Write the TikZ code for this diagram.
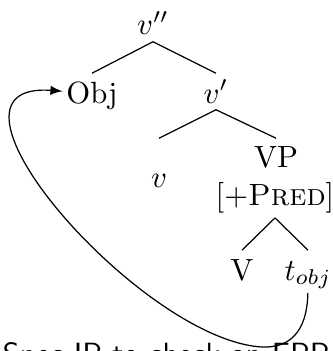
\documentclass[tikz,border=0pt]{standalone}
\usepackage{amsmath, amssymb}
\usepackage{tikz}
\usetikzlibrary{
    arrows,
    arrows.meta
}
\tikzset
{
  cat/.style={inner sep=0pt,text height=9.5pt,text depth=2pt,anchor=base},
  feature/.style={inner sep=0pt,text height=9.5pt,text depth=4pt,anchor=base},
  branch/.style={draw=black,thin},
  move/.style={draw=black,-latex}
}

\begin{document}
\begin{tikzpicture}[x=0.3256pt,y=-0.3256pt]
        % Frame of the picture
        \clip (0,0) rectangle (333,351);

        % Tree nodes
        \node[cat] (vdp) at (153,35) {$v''$};
        \node[cat] (obj) at (92,103) {Obj};
        \node[cat] (vbar) at (216,103) {$v'$};
        \node[cat] (v) at (159,187) {$v$};
        \node[cat] (vp) at (276,168) {VP};
        \node[feature] (pred) at (275,205) {[+\textsc{Pred}]};
        \node[cat] (verb) at (242,280) {V};
        \node[cat] (tobj) at (308,280) {$t_{obj}$};

        % Branches
        \draw[branch] (vdp.south) -- (obj.north);
        \draw[branch] (vdp.south) -- (vbar.north);
        \draw[branch] (vbar.south) -- (v |- vp.north);
        \draw[branch] (vbar.south) -- (vp.north);
        \draw[branch] (pred.south) -- (verb.north);
        \draw[branch] (pred.south) -- (tobj.north);

        % Movement of the object
        \draw[move,shorten <=2pt,shorten >=1pt] (tobj.south)
            .. controls (307,335) and (287,348) .. (262,347)
            .. controls (140,340) and (-85,80) .. (obj.west);

        % Note at the bottom
        \node[anchor=base,inner sep=0pt,font=\sffamily] (note) at (166,364) {Spec IP to check an EPP};
    \end{tikzpicture}
\end{document}
